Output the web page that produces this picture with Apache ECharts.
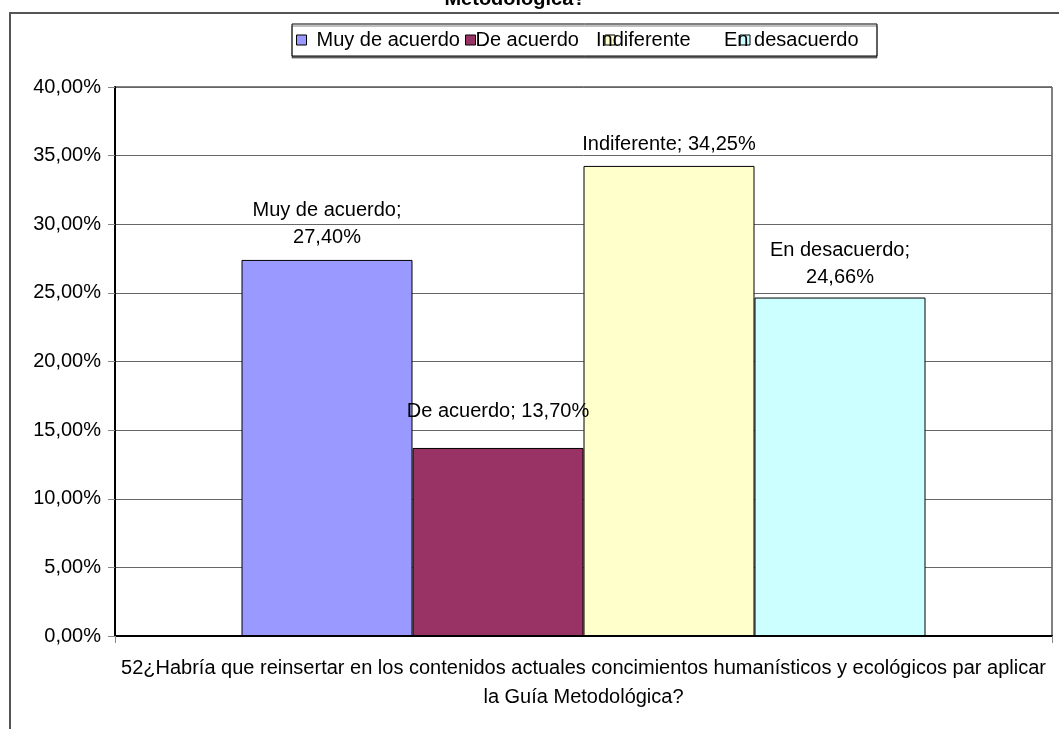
<!DOCTYPE html>
<html>
<head>
<meta charset="utf-8">
<script src="https://cdn.jsdelivr.net/npm/echarts@6/dist/echarts.min.js"></script>
<style>
  html, body { margin: 0; padding: 0; background: #fff; }
  #chart { width: 1059px; height: 729px; }
</style>
</head>
<body>
<div id="chart"></div>
<script>
// datos
const categories = ['52¿Habría que reinsertar en los contenidos actuales concimientos humanísticos y ecológicos par aplicar\nla Guía Metodológica?'];
const seriesNames = ['Muy de acuerdo', 'De acuerdo', 'Indiferente', 'En desacuerdo'];
const seriesValues = [27.40, 13.70, 34.25, 24.66];
const colors = ['#9999FF', '#993366', '#FFFFCC', '#CCFFFF'];
const yTicks = [0, 5, 10, 15, 20, 25, 30, 35, 40];

const FONT = 'Liberation Sans, Arial, sans-serif';
const fmt = (v) => v.toFixed(2).replace('.', ',') + '%';

// ajustes de etiquetas / leyenda (posiciones, no datos)
const labelDistance = [9, 23, 8, 7];
const twoLines = [true, false, false, true];
// el texto de la leyenda se solapa con los cuadros, como en el original
const legendLeft = [296, 465, 596, 724];
const legendTextShift = [5, -5, -24, -31];

const chart = echarts.init(document.getElementById('chart'));

const series = seriesNames.map((name, i) => ({
  name: name,
  type: 'bar',
  data: [seriesValues[i]],
  barWidth: 171,
  barGap: '0%',
  itemStyle: { color: colors[i], borderColor: '#000', borderWidth: 1 },
  label: {
    show: true,
    position: 'top',
    distance: labelDistance[i],
    color: '#000',
    fontFamily: FONT,
    fontSize: 20,
    lineHeight: 27,
    formatter: (p) => p.seriesName + ';' + (twoLines[i] ? '\n' : ' ') + fmt(p.value)
  }
}));

const legends = seriesNames.map((name, i) => ({
  data: [name],
  left: legendLeft[i],
  top: 30,
  padding: 0,
  itemWidth: 10,
  itemHeight: 10,
  icon: 'rect',
  selectedMode: false,
  itemStyle: { borderColor: '#000', borderWidth: 1 },
  textStyle: {
    color: '#000',
    fontFamily: FONT,
    fontSize: 20,
    padding: [0, 0, 0, legendTextShift[i]]
  }
}));

const option = {
  animation: false,
  backgroundColor: '#fff',
  title: {
    text: 'Metodológica?',
    left: 510,
    textAlign: 'center',
    top: -16,
    textStyle: { fontFamily: FONT, fontWeight: 'bold', fontSize: 20, color: '#000' }
  },
  graphic: [
    {
      type: 'rect',
      shape: { x: 10, y: 13, width: 1100, height: 800 },
      style: { fill: 'none', stroke: '#555', lineWidth: 2 },
      z: -1
    },
    {
      type: 'rect',
      shape: { x: 292, y: 24, width: 585, height: 32 },
      style: { fill: '#fff', stroke: '#000', lineWidth: 1, shadowColor: 'rgba(0,0,0,0.5)', shadowOffsetY: 2 },
      z: -1
    }
  ],
  legend: legends,
  grid: {
    left: 115,
    right: 7,
    top: 87,
    bottom: 93,
    show: true,
    borderColor: '#000',
    borderWidth: 1
  },
  xAxis: {
    type: 'category',
    data: categories,
    axisLine: { lineStyle: { color: '#000', width: 2 } },
    axisTick: { show: true, length: 7, lineStyle: { color: '#888' } },
    axisLabel: {
      color: '#000',
      fontFamily: FONT,
      fontSize: 20,
      lineHeight: 29,
      margin: 18
    }
  },
  yAxis: {
    type: 'value',
    min: yTicks[0],
    max: yTicks[yTicks.length - 1],
    interval: 5,
    axisLine: { show: true, lineStyle: { color: '#000', width: 2 } },
    axisTick: { show: true, length: 7, lineStyle: { color: '#888' } },
    splitLine: { lineStyle: { color: '#666', width: 1 } },
    axisLabel: {
      color: '#000',
      fontFamily: FONT,
      fontSize: 20,
      margin: 14,
      formatter: (v) => fmt(v)
    }
  },
  series: series
};

chart.setOption(option);
</script>
</body>
</html>
